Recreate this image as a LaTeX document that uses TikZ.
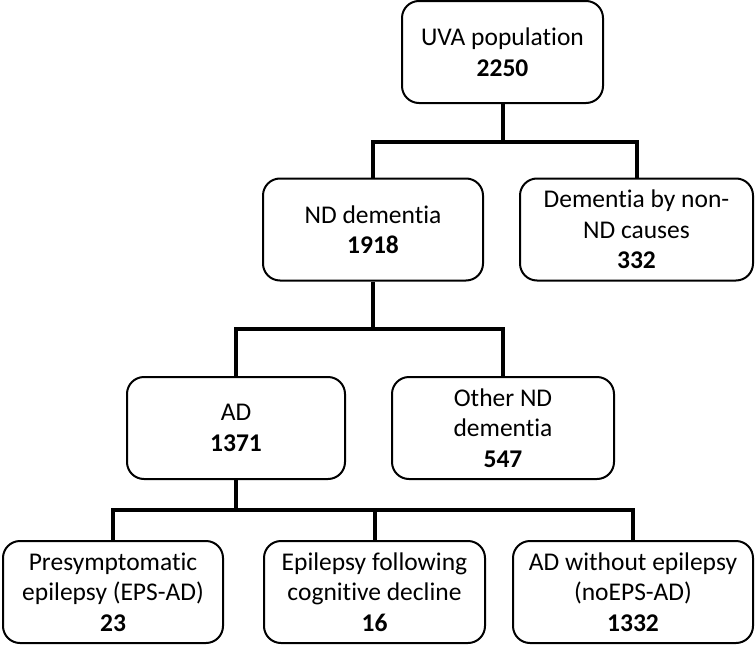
\documentclass[tikz,border=0pt]{standalone}
\usepackage{fontspec}
\setmainfont[Ligatures={NoCommon}]{Carlito}
\usetikzlibrary{calc}

\tikzset{
    box/.style={draw, line width=2pt, rounded corners=17pt, align=center,
        inner sep=0pt, minimum height=102pt,
        font=\fontsize{25.5}{30.5}\selectfont},
    link/.style={line width=4pt, line join=miter}
}

\begin{document}
\begin{tikzpicture}[x=1pt, y=-1pt]
    \useasboundingbox (0,0) rectangle (755,645);

    \node[box, minimum width=201pt] (uva) at (502.5,52) {UVA population\\\textbf{2250}};
    \node[box, minimum width=220pt] (nd) at (373,229.5) {ND dementia\\\textbf{1918}};
    \node[box, minimum width=233pt] (nonnd) at (636.5,229.5) {Dementia by non-\\ND causes\\\textbf{332}};
    \node[box, minimum width=218pt] (ad) at (236,428) {AD\\\textbf{1371}};
    \node[box, minimum width=222pt] (other) at (503,428) {Other ND\\dementia\\\textbf{547}};
    \node[box, minimum width=220pt] (eps) at (113,592) {Presymptomatic\\epilepsy (EPS-AD)\\\textbf{23}};
    \node[box, minimum width=221pt] (follow) at (374.5,592) {Epilepsy following\\cognitive decline\\\textbf{16}};
    \node[box, minimum width=240pt] (noeps) at (633,592) {AD without epilepsy\\(noEPS-AD)\\\textbf{1332}};

    \coordinate (j1) at (502.5,142);
    \coordinate (j2) at (373,329);
    \coordinate (j3) at (236,510);

    \draw[link] (uva.south) -- (j1);
    \draw[link] (nd.north) |- (j1) -| (nonnd.north);
    \draw[link] (nd.south) -- (j2);
    \draw[link] (ad.north) |- (j2) -| (other.north);
    \draw[link] (ad.south) -- (j3);
    \draw[link] (eps.north) |- (j3) -| (noeps.north);
    \draw[link] (follow.north) -- (follow.north |- j3);
\end{tikzpicture}
\end{document}
